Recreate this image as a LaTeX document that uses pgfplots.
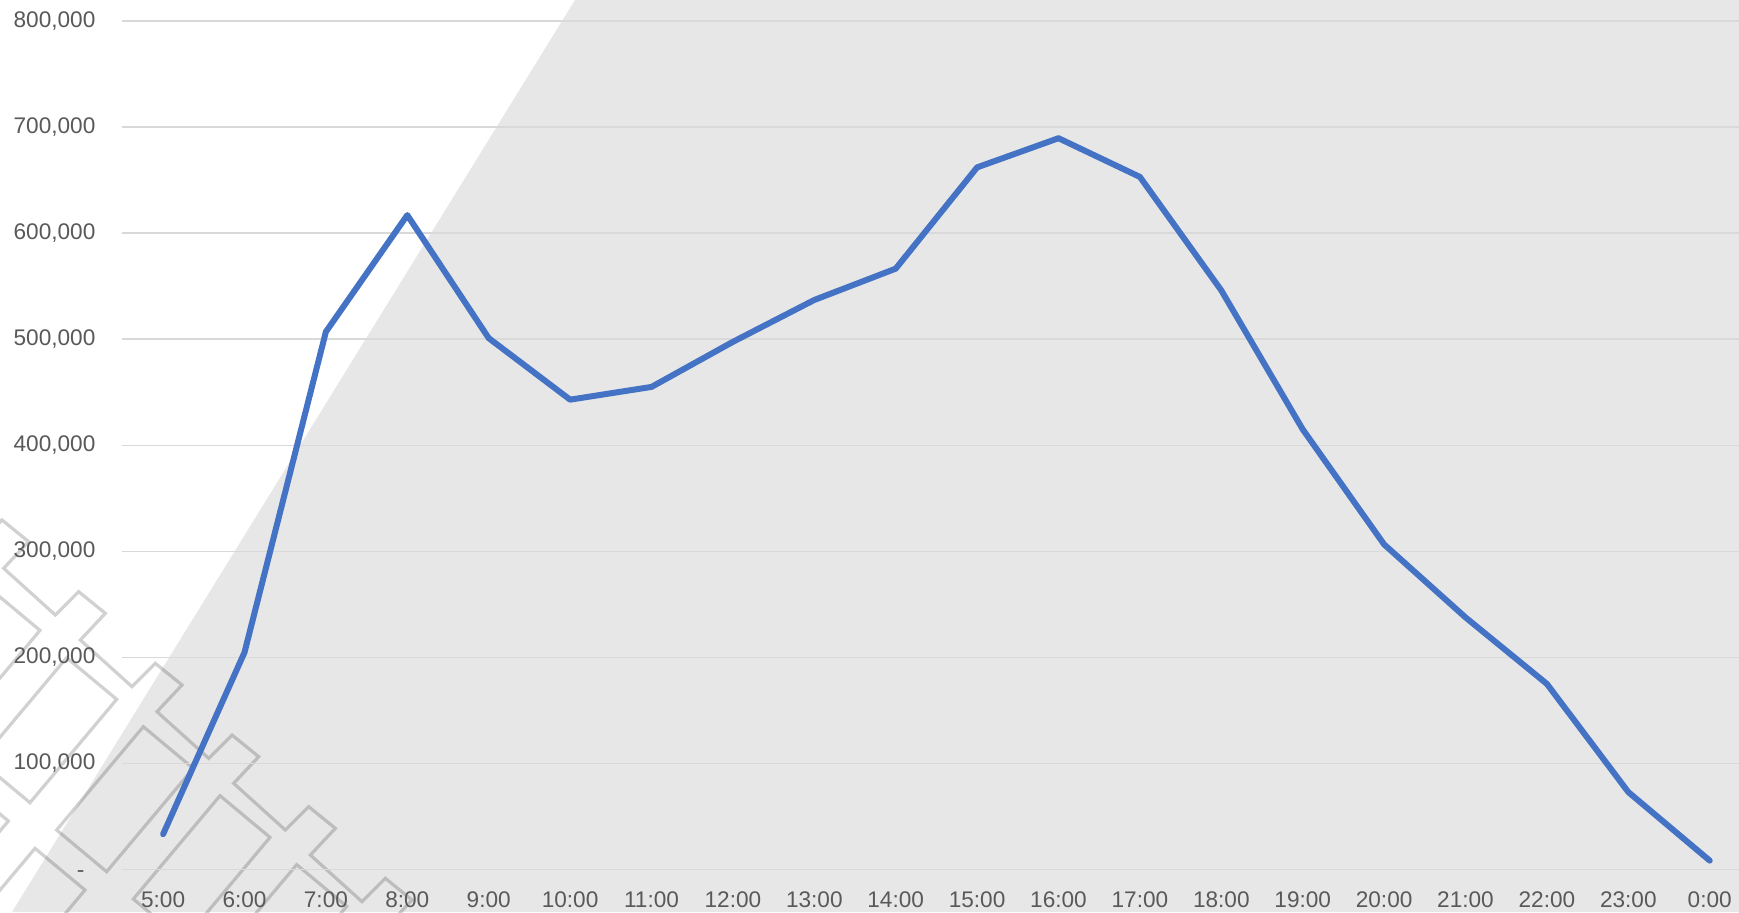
\documentclass[border=0pt]{standalone}
\usepackage{pgfplots}
\pgfplotsset{compat=1.18}
\usepackage{fontspec}
\setmainfont{Liberation Sans}
\definecolor{lineblue}{HTML}{4472C4}
\definecolor{bggrey}{HTML}{E7E7E7}
\definecolor{gridgrey}{HTML}{D9D9D9}
\definecolor{labelgrey}{HTML}{595959}
\begin{document}
\begin{tikzpicture}
\fill[white] (0,0) rectangle (869.5pt,456pt);
\begin{scope}[shift={(0pt,456pt)}, x=0.5pt, y=-0.5pt]
\fill[bggrey] (575,0) -- (1739,0) -- (1739,912) -- (12,912) -- cycle;
\end{scope}
\begin{scope}[shift={(0pt,216pt)}, x=0.166667pt, y=-0.166667pt]
\begin{scope}[draw=black, draw opacity=0.18, line width=1.6pt, line join=miter]
 \draw (-294,-25) foreach \k in {0,...,7} { -- ++(70,-70) -- ++(80,65) -- ++(-75,80) -- ++(155,140) };
 \foreach \k in {-2,...,5} {
   \draw ({200+230*\k},{533+207*\k}) -- ++(150,125) -- ++(-260,310) -- ++(-150,-125) -- cycle;
   \draw ({-125+230*\k},{898+207*\k}) -- ++(150,125) -- ++(-260,310) -- ++(-150,-125) -- cycle;
 }
\end{scope}
\end{scope}
\begin{axis}[
 at={(61.2pt,21.25pt)}, anchor=south west,
 scale only axis, width=808.3pt, height=424.25pt,
 xmin=-0.5, xmax=19.36, ymin=0, ymax=800000,
 axis line style={draw=none}, major tick length=0pt,
 xtick={0,...,19},
 xticklabels={5:00,6:00,7:00,8:00,9:00,10:00,11:00,12:00,13:00,14:00,15:00,16:00,17:00,18:00,19:00,20:00,21:00,22:00,23:00,0:00},
 ytick={0,100000,200000,300000,400000,500000,600000,700000,800000},
 yticklabels={{\vphantom{0}-\kern5.5pt},{100,000},{200,000},{300,000},{400,000},{500,000},{600,000},{700,000},{800,000}},
 scaled y ticks=false,
 ymajorgrids, grid style={gridgrey, line width=0.75pt},
 tick label style={font=\fontsize{11.3}{13}\selectfont, text=labelgrey},
 yticklabel style={xshift=-10pt},
 xticklabel style={yshift=-7.4pt},
 clip=false,
]
\addplot[lineblue, line width=3pt, line join=round, line cap=round] coordinates {
(0,33300) (1,204700) (2,507000) (3,617000) (4,501000) (5,443000) (6,455000)
(7,497500) (8,537000) (9,566500) (10,662000) (11,689500) (12,653000) (13,546000)
(14,415000) (15,306500) (16,237700) (17,175000) (18,73000) (19,8400)
};
\end{axis}
\pgfresetboundingbox
\useasboundingbox (0,0) rectangle (869.5pt,456pt);
\end{tikzpicture}
\end{document}
